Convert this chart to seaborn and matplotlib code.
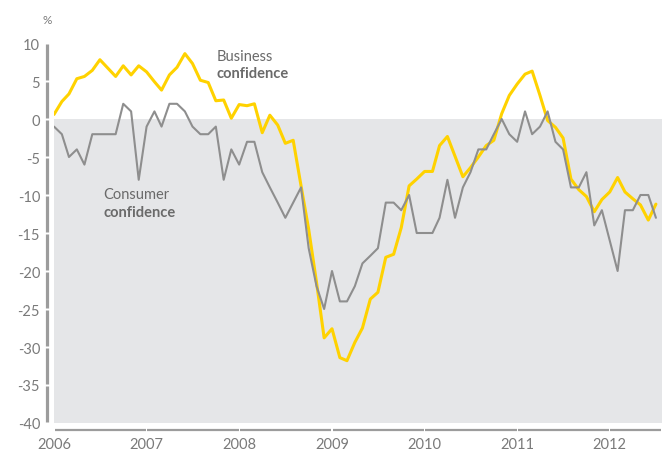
import pandas as pd
import matplotlib
matplotlib.use('Agg')
import matplotlib.pyplot as plt
import matplotlib.transforms as mtransforms
import seaborn as sns

# monthly readings, Jan 2006 - Jul 2012
months = pd.date_range('2006-01-01', periods=79, freq='MS')

business = [0.6, 2.3, 3.3, 5.3, 5.6, 6.4, 7.8, 6.7, 5.6, 7.0, 5.8, 7.0,
            6.2, 4.9, 3.8, 5.8, 6.8, 8.6, 7.3, 5.1, 4.8, 2.4, 2.5, 0.1,
            1.9, 1.75, 2.0, -1.8, 0.5, -0.8, -3.2, -2.8, -8.8, -14.5, -21.5, -28.8,
            -27.6, -31.4, -31.8, -29.4, -27.5, -23.7, -22.8, -18.2, -17.8, -14.3, -8.8, -7.9,
            -6.9, -6.9, -3.5, -2.3, -4.9, -7.6, -6.4, -5.0, -3.5, -2.8, 0.7, 3.1,
            4.6, 5.9, 6.3, 3.1, -0.2, -1.1, -2.5, -7.9, -9.3, -10.2, -12.2, -10.6,
            -9.6, -7.7, -9.6, -10.5, -11.3, -13.3, -11.2]

consumer = [-1, -2, -5, -4, -6, -2, -2, -2, -2, 2, 1, -8,
            -1, 1, -1, 2, 2, 1, -1, -2, -2, -1, -8, -4,
            -6, -3, -3, -7, -9, -11, -13, -11, -9, -17, -22, -25,
            -20, -24, -24, -22, -19, -18, -17, -11, -11, -12, -10, -15,
            -15, -15, -13, -8, -13, -9, -7, -4, -4, -2, 0, -2,
            -3, 1, -2, -1, 1, -3, -4, -9, -9, -7, -14, -12,
            -16, -20, -12, -12, -10, -10, -13]

years = list(range(2006, 2013))
yticks = list(range(-40, 11, 5))

sns.set_style('white')
plt.rcParams['font.family'] = ['Lato', 'DejaVu Sans']
plt.rcParams['axes.unicode_minus'] = False

fig = plt.figure(figsize=(6.62, 4.52), dpi=100)
ax = fig.add_axes([54 / 662, 28 / 452, 608 / 662, 380 / 452])

# grey band under zero
ax.axhspan(-40, 0, color='#e5e6e8', zorder=0, lw=0)

sns.lineplot(x=months, y=business, color='#ffd200', linewidth=2.2, ax=ax, zorder=3)
sns.lineplot(x=months, y=consumer, color='#8e8e8e', linewidth=1.5, ax=ax, zorder=4)

xmax = pd.Timestamp('2012-07-25')
ax.set_xlim(pd.Timestamp('2006-01-01'), xmax)
ax.set_ylim(-40, 10)
year_dates = [pd.Timestamp(f'{y}-01-01') for y in years]
ax.set_xticks(year_dates)
ax.set_xticklabels([str(y) for y in years])
ax.set_yticks(yticks)
ax.set_yticklabels([str(v) for v in yticks])
ax.set_xlabel('')
ax.set_ylabel('')

for side in ax.spines:
    ax.spines[side].set_visible(False)

# axis bars broken at each tick
bar = '#9c9c9c'
ytrans = mtransforms.blended_transform_factory(ax.transAxes, ax.transData)
for lo, hi in zip(yticks[:-1], yticks[1:]):
    ax.plot([-0.0123, -0.0123], [lo + 0.1, hi - 0.1], color=bar, lw=2.3,
            transform=ytrans, clip_on=False, solid_capstyle='butt')
xtrans = mtransforms.blended_transform_factory(ax.transData, ax.transAxes)
edges = year_dates + [xmax]
for lo, hi in zip(edges[:-1], edges[1:]):
    ax.plot([lo + pd.Timedelta(days=2), hi - pd.Timedelta(days=2)], [-0.019, -0.019],
            color=bar, lw=1.6, transform=xtrans, clip_on=False, solid_capstyle='butt')

ax.tick_params(axis='both', length=0, labelcolor='#7a7a7a', labelsize=10.5)
ax.tick_params(axis='y', pad=10)
ax.tick_params(axis='x', pad=10)

txt = '#6a6a6a'
ax.text(pd.Timestamp('2007-10-05'), 8.3, 'Business', color=txt, fontsize=10.5,
        va='center', ha='left')
ax.text(pd.Timestamp('2007-10-05'), 6.0, 'confidence', color=txt, fontsize=10.5,
        fontweight='bold', va='center', ha='left')
ax.text(pd.Timestamp('2006-07-16'), -9.9, 'Consumer', color=txt, fontsize=10.5,
        va='center', ha='left')
ax.text(pd.Timestamp('2006-07-16'), -12.2, 'confidence', color=txt, fontsize=10.5,
        fontweight='bold', va='center', ha='left')

fig.text(47 / 662, 1 - 20 / 452, '%', color='#7a7a7a', fontsize=8.5,
         ha='center', va='center')

plt.savefig('out.png', dpi=100)
